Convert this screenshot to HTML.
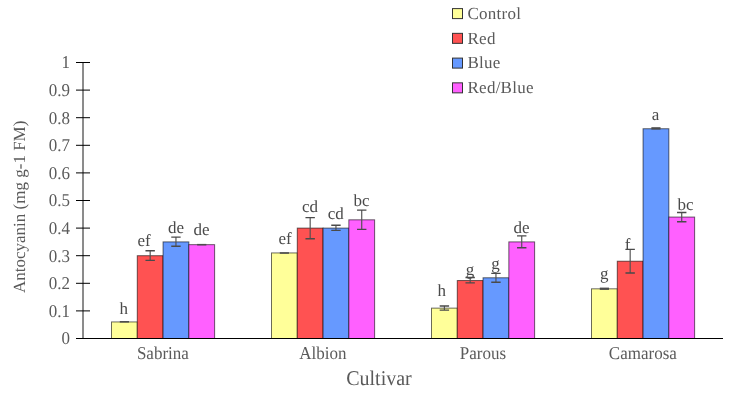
<!DOCTYPE html><html><head><meta charset="utf-8"><style>html,body{margin:0;padding:0;background:#fff;width:744px;height:394px;overflow:hidden}</style></head><body><svg width="744" height="394" viewBox="0 0 744 394" style="display:block;will-change:transform;text-rendering:geometricPrecision">
<rect width="744" height="394" fill="#fff"/>
<rect x="111.50" y="321.94" width="25.78" height="16.56" fill="#FFFF99"/>
<rect x="111.50" y="321.94" width="25.78" height="16.56" fill="none" stroke="#000" stroke-opacity="0.58" stroke-width="1"/>
<rect x="137.28" y="255.70" width="25.78" height="82.80" fill="#FF5252"/>
<rect x="137.28" y="255.70" width="25.78" height="82.80" fill="none" stroke="#000" stroke-opacity="0.58" stroke-width="1"/>
<rect x="163.06" y="241.90" width="25.78" height="96.60" fill="#6699FF"/>
<rect x="163.06" y="241.90" width="25.78" height="96.60" fill="none" stroke="#000" stroke-opacity="0.58" stroke-width="1"/>
<rect x="188.84" y="244.66" width="25.78" height="93.84" fill="#FF60FF"/>
<rect x="188.84" y="244.66" width="25.78" height="93.84" fill="none" stroke="#000" stroke-opacity="0.58" stroke-width="1"/>
<rect x="271.50" y="252.94" width="25.78" height="85.56" fill="#FFFF99"/>
<rect x="271.50" y="252.94" width="25.78" height="85.56" fill="none" stroke="#000" stroke-opacity="0.58" stroke-width="1"/>
<rect x="297.28" y="228.10" width="25.78" height="110.40" fill="#FF5252"/>
<rect x="297.28" y="228.10" width="25.78" height="110.40" fill="none" stroke="#000" stroke-opacity="0.58" stroke-width="1"/>
<rect x="323.06" y="228.10" width="25.78" height="110.40" fill="#6699FF"/>
<rect x="323.06" y="228.10" width="25.78" height="110.40" fill="none" stroke="#000" stroke-opacity="0.58" stroke-width="1"/>
<rect x="348.84" y="219.82" width="25.78" height="118.68" fill="#FF60FF"/>
<rect x="348.84" y="219.82" width="25.78" height="118.68" fill="none" stroke="#000" stroke-opacity="0.58" stroke-width="1"/>
<rect x="431.50" y="308.14" width="25.78" height="30.36" fill="#FFFF99"/>
<rect x="431.50" y="308.14" width="25.78" height="30.36" fill="none" stroke="#000" stroke-opacity="0.58" stroke-width="1"/>
<rect x="457.28" y="280.54" width="25.78" height="57.96" fill="#FF5252"/>
<rect x="457.28" y="280.54" width="25.78" height="57.96" fill="none" stroke="#000" stroke-opacity="0.58" stroke-width="1"/>
<rect x="483.06" y="277.78" width="25.78" height="60.72" fill="#6699FF"/>
<rect x="483.06" y="277.78" width="25.78" height="60.72" fill="none" stroke="#000" stroke-opacity="0.58" stroke-width="1"/>
<rect x="508.84" y="241.90" width="25.78" height="96.60" fill="#FF60FF"/>
<rect x="508.84" y="241.90" width="25.78" height="96.60" fill="none" stroke="#000" stroke-opacity="0.58" stroke-width="1"/>
<rect x="591.50" y="288.82" width="25.78" height="49.68" fill="#FFFF99"/>
<rect x="591.50" y="288.82" width="25.78" height="49.68" fill="none" stroke="#000" stroke-opacity="0.58" stroke-width="1"/>
<rect x="617.28" y="261.22" width="25.78" height="77.28" fill="#FF5252"/>
<rect x="617.28" y="261.22" width="25.78" height="77.28" fill="none" stroke="#000" stroke-opacity="0.58" stroke-width="1"/>
<rect x="643.06" y="128.74" width="25.78" height="209.76" fill="#6699FF"/>
<rect x="643.06" y="128.74" width="25.78" height="209.76" fill="none" stroke="#000" stroke-opacity="0.58" stroke-width="1"/>
<rect x="668.84" y="217.06" width="25.78" height="121.44" fill="#FF60FF"/>
<rect x="668.84" y="217.06" width="25.78" height="121.44" fill="none" stroke="#000" stroke-opacity="0.58" stroke-width="1"/>
<rect x="119.79" y="321.00" width="9.2" height="1.60" fill="#4d4d4d"/>
<path d="M150.17 250.75V260.40" stroke="#505050" stroke-width="1.15" fill="none"/>
<path d="M145.47 250.75H154.87M145.47 260.40H154.87" stroke="#4a4a4a" stroke-width="1.4" fill="none"/>
<path d="M175.95 237.10V246.30" stroke="#505050" stroke-width="1.15" fill="none"/>
<path d="M171.25 237.10H180.65M171.25 246.30H180.65" stroke="#4a4a4a" stroke-width="1.4" fill="none"/>
<rect x="197.13" y="243.90" width="9.2" height="1.60" fill="#4d4d4d"/>
<rect x="279.79" y="252.20" width="9.2" height="1.60" fill="#4d4d4d"/>
<path d="M310.17 217.60V238.70" stroke="#505050" stroke-width="1.15" fill="none"/>
<path d="M305.47 217.60H314.87M305.47 238.70H314.87" stroke="#4a4a4a" stroke-width="1.4" fill="none"/>
<path d="M335.95 225.30V230.40" stroke="#505050" stroke-width="1.15" fill="none"/>
<path d="M331.25 225.30H340.65M331.25 230.40H340.65" stroke="#4a4a4a" stroke-width="1.4" fill="none"/>
<path d="M361.73 210.10V229.40" stroke="#505050" stroke-width="1.15" fill="none"/>
<path d="M357.03 210.10H366.43M357.03 229.40H366.43" stroke="#4a4a4a" stroke-width="1.4" fill="none"/>
<path d="M444.39 306.00V310.10" stroke="#505050" stroke-width="1.15" fill="none"/>
<path d="M439.69 306.00H449.09M439.69 310.10H449.09" stroke="#4a4a4a" stroke-width="1.4" fill="none"/>
<path d="M470.17 277.50V282.90" stroke="#505050" stroke-width="1.15" fill="none"/>
<path d="M465.47 277.50H474.87M465.47 282.90H474.87" stroke="#4a4a4a" stroke-width="1.4" fill="none"/>
<path d="M495.95 273.40V282.20" stroke="#505050" stroke-width="1.15" fill="none"/>
<path d="M491.25 273.40H500.65M491.25 282.20H500.65" stroke="#4a4a4a" stroke-width="1.4" fill="none"/>
<path d="M521.73 235.90V247.80" stroke="#505050" stroke-width="1.15" fill="none"/>
<path d="M517.03 235.90H526.43M517.03 247.80H526.43" stroke="#4a4a4a" stroke-width="1.4" fill="none"/>
<rect x="599.79" y="287.60" width="9.2" height="2.30" fill="#4d4d4d"/>
<path d="M630.17 249.40V273.00" stroke="#505050" stroke-width="1.15" fill="none"/>
<path d="M625.47 249.40H634.87M625.47 273.00H634.87" stroke="#4a4a4a" stroke-width="1.4" fill="none"/>
<rect x="651.35" y="127.20" width="9.2" height="2.40" fill="#4d4d4d"/>
<path d="M681.73 212.50V221.70" stroke="#505050" stroke-width="1.15" fill="none"/>
<path d="M677.03 212.50H686.43M677.03 221.70H686.43" stroke="#4a4a4a" stroke-width="1.4" fill="none"/>
<line x1="83" y1="62.5" x2="83" y2="338.5" stroke="#191919" stroke-width="1"/>
<line x1="76" y1="338.5" x2="723" y2="338.5" stroke="#000" stroke-width="1"/>
<line x1="76" y1="310.90" x2="90" y2="310.90" stroke="#000" stroke-width="1"/>
<line x1="76" y1="283.30" x2="90" y2="283.30" stroke="#000" stroke-width="1"/>
<line x1="76" y1="255.70" x2="90" y2="255.70" stroke="#000" stroke-width="1"/>
<line x1="76" y1="228.10" x2="90" y2="228.10" stroke="#000" stroke-width="1"/>
<line x1="76" y1="200.50" x2="90" y2="200.50" stroke="#000" stroke-width="1"/>
<line x1="76" y1="172.90" x2="90" y2="172.90" stroke="#000" stroke-width="1"/>
<line x1="76" y1="145.30" x2="90" y2="145.30" stroke="#000" stroke-width="1"/>
<line x1="76" y1="117.70" x2="90" y2="117.70" stroke="#000" stroke-width="1"/>
<line x1="76" y1="90.10" x2="90" y2="90.10" stroke="#000" stroke-width="1"/>
<line x1="76" y1="62.50" x2="90" y2="62.50" stroke="#000" stroke-width="1"/>
<text transform="matrix(1 0 0 1.06 0 -20.664)" x="70" y="344.40" text-anchor="end" font-family='"Liberation Serif", serif' font-size="17" fill="#5a5a5a">0</text>
<text transform="matrix(1 0 0 1.06 0 -19.008)" x="70" y="316.80" text-anchor="end" font-family='"Liberation Serif", serif' font-size="17" fill="#5a5a5a">0.1</text>
<text transform="matrix(1 0 0 1.06 0 -17.352)" x="70" y="289.20" text-anchor="end" font-family='"Liberation Serif", serif' font-size="17" fill="#5a5a5a">0.2</text>
<text transform="matrix(1 0 0 1.06 0 -15.696)" x="70" y="261.60" text-anchor="end" font-family='"Liberation Serif", serif' font-size="17" fill="#5a5a5a">0.3</text>
<text transform="matrix(1 0 0 1.06 0 -14.040)" x="70" y="234.00" text-anchor="end" font-family='"Liberation Serif", serif' font-size="17" fill="#5a5a5a">0.4</text>
<text transform="matrix(1 0 0 1.06 0 -12.384)" x="70" y="206.40" text-anchor="end" font-family='"Liberation Serif", serif' font-size="17" fill="#5a5a5a">0.5</text>
<text transform="matrix(1 0 0 1.06 0 -10.728)" x="70" y="178.80" text-anchor="end" font-family='"Liberation Serif", serif' font-size="17" fill="#5a5a5a">0.6</text>
<text transform="matrix(1 0 0 1.06 0 -9.072)" x="70" y="151.20" text-anchor="end" font-family='"Liberation Serif", serif' font-size="17" fill="#5a5a5a">0.7</text>
<text transform="matrix(1 0 0 1.06 0 -7.416)" x="70" y="123.60" text-anchor="end" font-family='"Liberation Serif", serif' font-size="17" fill="#5a5a5a">0.8</text>
<text transform="matrix(1 0 0 1.06 0 -5.760)" x="70" y="96.00" text-anchor="end" font-family='"Liberation Serif", serif' font-size="17" fill="#5a5a5a">0.9</text>
<text transform="matrix(1 0 0 1.06 0 -4.104)" x="70" y="68.40" text-anchor="end" font-family='"Liberation Serif", serif' font-size="17" fill="#5a5a5a">1</text>
<text transform="matrix(1 0 0 1.06 0 -21.540)" x="162.86" y="359.0" text-anchor="middle" font-family='"Liberation Serif", serif' font-size="17" fill="#5a5a5a">Sabrina</text>
<text transform="matrix(1 0 0 1.06 0 -21.540)" x="322.86" y="359.0" text-anchor="middle" font-family='"Liberation Serif", serif' font-size="17" fill="#5a5a5a">Albion</text>
<text transform="matrix(1 0 0 1.06 0 -21.540)" x="482.86" y="359.0" text-anchor="middle" font-family='"Liberation Serif", serif' font-size="17" fill="#5a5a5a">Parous</text>
<text transform="matrix(1 0 0 1.06 0 -21.540)" x="642.86" y="359.0" text-anchor="middle" font-family='"Liberation Serif", serif' font-size="17" fill="#5a5a5a">Camarosa</text>
<text transform="matrix(1 0 0 1.05 0 -19.245)" x="379" y="384.9" text-anchor="middle" font-family='"Liberation Serif", serif' font-size="20" fill="#5a5a5a">Cultivar</text>
<text transform="translate(25.4 206.8) rotate(-90)" x="0" y="0" text-anchor="middle" font-family='"Liberation Serif", serif' font-size="17" fill="#5a5a5a">Antocyanin (mg g-1 FM)</text>
<text transform="matrix(1 0 0 1.0 0 -0.000)" x="123.85" y="314.00" text-anchor="middle" font-family='"Liberation Serif", serif' font-size="17" fill="#4a4a4a">h</text>
<text transform="matrix(1 0 0 1.0 0 -0.000)" x="144.2" y="246.30" text-anchor="middle" font-family='"Liberation Serif", serif' font-size="17" fill="#4a4a4a">ef</text>
<text transform="matrix(1 0 0 1.0 0 -0.000)" x="175.9" y="233.40" text-anchor="middle" font-family='"Liberation Serif", serif' font-size="17" fill="#4a4a4a">de</text>
<text transform="matrix(1 0 0 1.0 0 -0.000)" x="201.6" y="235.40" text-anchor="middle" font-family='"Liberation Serif", serif' font-size="17" fill="#4a4a4a">de</text>
<text transform="matrix(1 0 0 1.0 0 -0.000)" x="285.2" y="243.90" text-anchor="middle" font-family='"Liberation Serif", serif' font-size="17" fill="#4a4a4a">ef</text>
<text transform="matrix(1 0 0 1.0 0 -0.000)" x="309.9" y="212.30" text-anchor="middle" font-family='"Liberation Serif", serif' font-size="17" fill="#4a4a4a">cd</text>
<text transform="matrix(1 0 0 1.0 0 -0.000)" x="335.7" y="218.60" text-anchor="middle" font-family='"Liberation Serif", serif' font-size="17" fill="#4a4a4a">cd</text>
<text transform="matrix(1 0 0 1.0 0 -0.000)" x="361.4" y="205.60" text-anchor="middle" font-family='"Liberation Serif", serif' font-size="17" fill="#4a4a4a">bc</text>
<text transform="matrix(1 0 0 1.0 0 -0.000)" x="441.7" y="295.90" text-anchor="middle" font-family='"Liberation Serif", serif' font-size="17" fill="#4a4a4a">h</text>
<text transform="matrix(1 0 0 1.0 0 -0.000)" x="469.9" y="275.10" text-anchor="middle" font-family='"Liberation Serif", serif' font-size="17" fill="#4a4a4a">g</text>
<text transform="matrix(1 0 0 1.0 0 -0.000)" x="495.4" y="268.90" text-anchor="middle" font-family='"Liberation Serif", serif' font-size="17" fill="#4a4a4a">g</text>
<text transform="matrix(1 0 0 1.0 0 -0.000)" x="521.6" y="232.60" text-anchor="middle" font-family='"Liberation Serif", serif' font-size="17" fill="#4a4a4a">de</text>
<text transform="matrix(1 0 0 1.0 0 -0.000)" x="604.2" y="279.10" text-anchor="middle" font-family='"Liberation Serif", serif' font-size="17" fill="#4a4a4a">g</text>
<text transform="matrix(1 0 0 1.0 0 -0.000)" x="627.5" y="249.50" text-anchor="middle" font-family='"Liberation Serif", serif' font-size="17" fill="#4a4a4a">f</text>
<text transform="matrix(1 0 0 1.0 0 -0.000)" x="655.4" y="119.60" text-anchor="middle" font-family='"Liberation Serif", serif' font-size="17" fill="#4a4a4a">a</text>
<text transform="matrix(1 0 0 1.0 0 -0.000)" x="685.6" y="209.90" text-anchor="middle" font-family='"Liberation Serif", serif' font-size="17" fill="#4a4a4a">bc</text>
<rect x="452.5" y="8.60" width="10" height="10" fill="#FFFF99" stroke="#333" stroke-width="1"/>
<text x="467.5" y="18.80" font-family='"Liberation Serif", serif' font-size="17" letter-spacing="0.25" fill="#5a5a5a">Control</text>
<rect x="452.5" y="33.35" width="10" height="10" fill="#FF5252" stroke="#333" stroke-width="1"/>
<text x="467.5" y="43.55" font-family='"Liberation Serif", serif' font-size="17" letter-spacing="0.25" fill="#5a5a5a">Red</text>
<rect x="452.5" y="58.10" width="10" height="10" fill="#6699FF" stroke="#333" stroke-width="1"/>
<text x="467.5" y="68.30" font-family='"Liberation Serif", serif' font-size="17" letter-spacing="0.25" fill="#5a5a5a">Blue</text>
<rect x="452.5" y="82.85" width="10" height="10" fill="#FF60FF" stroke="#333" stroke-width="1"/>
<text x="467.5" y="93.05" font-family='"Liberation Serif", serif' font-size="17" letter-spacing="0.25" fill="#5a5a5a">Red/Blue</text>
</svg></body></html>
